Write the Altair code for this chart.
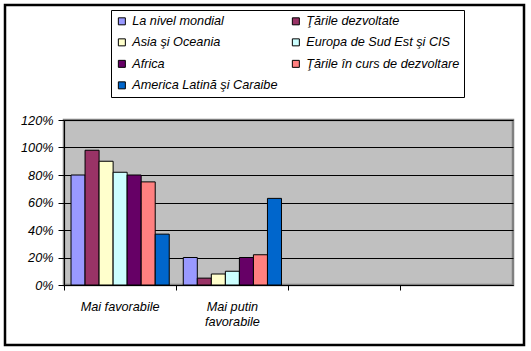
import altair as alt
import pandas as pd

categories = ["Mai favorabile", "Mai putin favorabile", "c3", "c4"]
series = [
    "La nivel mondial",
    "Ţările dezvoltate",
    "Asia şi Oceania",
    "Europa de Sud Est şi CIS",
    "Africa",
    "Ţările în curs de dezvoltare",
    "America Latină şi Caraibe",
]
colors = ["#9999FF", "#993366", "#FFFFCC", "#CCFFFF", "#660066", "#FF8080", "#0066CC"]
mai_favorabile = [0.80, 0.98, 0.90, 0.82, 0.80, 0.75, 0.37]
mai_putin_favorabile = [0.20, 0.05, 0.08, 0.10, 0.20, 0.22, 0.63]
y_ticks = [0, 0.2, 0.4, 0.6, 0.8, 1.0, 1.2]

# legend is laid out column by column (4 rows), so order the colour domain accordingly
legend_order = [0, 2, 4, 6, 1, 3, 5]
legend_domain = [series[i] for i in legend_order]
legend_colors = [colors[i] for i in legend_order]

rows = []
for s, v in zip(series, mai_favorabile):
    rows.append({"cat": categories[0], "serie": s, "val": v})
for s, v in zip(series, mai_putin_favorabile):
    rows.append({"cat": categories[1], "serie": s, "val": v})
df = pd.DataFrame(rows)

FONT = "Liberation Sans"

bars = alt.Chart(df).mark_bar(stroke="black", strokeWidth=1).encode(
    x=alt.X(
        "cat:N",
        scale=alt.Scale(domain=categories, paddingInner=0, paddingOuter=0),
        axis=alt.Axis(
            title=None,
            labelAngle=0,
            bandPosition=0,
            labelExpr="datum.value == 'Mai putin favorabile' ? ['Mai putin', 'favorabile'] : (datum.value == 'Mai favorabile' ? datum.value : '')",
            labelLineHeight=15,
            tickSize=5,
            labelPadding=10,
            tickColor="black",
            domainColor="black",
            grid=False,
        ),
    ),
    xOffset=alt.XOffset(
        "serie:N",
        scale=alt.Scale(domain=series, paddingOuter=0.5, paddingInner=0),
    ),
    y=alt.Y(
        "val:Q",
        scale=alt.Scale(domain=[0, 1.2], nice=False),
        axis=alt.Axis(
            title=None,
            values=y_ticks,
            format=".0%",
            tickSize=6,
            labelPadding=5,
            tickColor="black",
            domainColor="black",
            gridColor="black",
            gridWidth=1,
            grid=True,
        ),
    ),
    color=alt.Color(
        "serie:N",
        scale=alt.Scale(domain=legend_domain, range=legend_colors),
        legend=alt.Legend(
            title=None,
            orient="none",
            legendX=47,
            legendY=-110,
            columns=2,
            columnPadding=12,
            rowPadding=7.5,
            padding=4.5,
            fillColor="white",
            strokeColor="black",
            symbolType="square",
            symbolSize=49,
            symbolStrokeColor="black",
            symbolStrokeWidth=1,
            labelOffset=4,
            labelFont=FONT,
            labelFontSize=12.7,
            labelFontStyle="italic",
            labelColor="black",
            labelLimit=300,
        ),
    ),
)

frame = alt.Chart(alt.Data(values=[{"a": 1}])).mark_rect(
    fill=None, stroke="black", strokeWidth=2.5
).encode(
    x=alt.value(-59), x2=alt.value(460), y=alt.value(-115), y2=alt.value(225)
)

chart = alt.layer(bars, frame).properties(
    width=449,
    height=165,
    autosize=alt.AutoSizeParams(type="none"),
    padding={"left": 64, "top": 120, "right": 18, "bottom": 66},
    background="white",
).configure_view(
    fill="#C0C0C0", stroke="#808080", strokeWidth=2.5
).configure_axis(
    labelFont=FONT,
    labelFontSize=12.7,
    labelFontStyle="italic",
    labelColor="black",
)

chart.save("out.html", embed_options={"renderer": "svg", "actions": False})
